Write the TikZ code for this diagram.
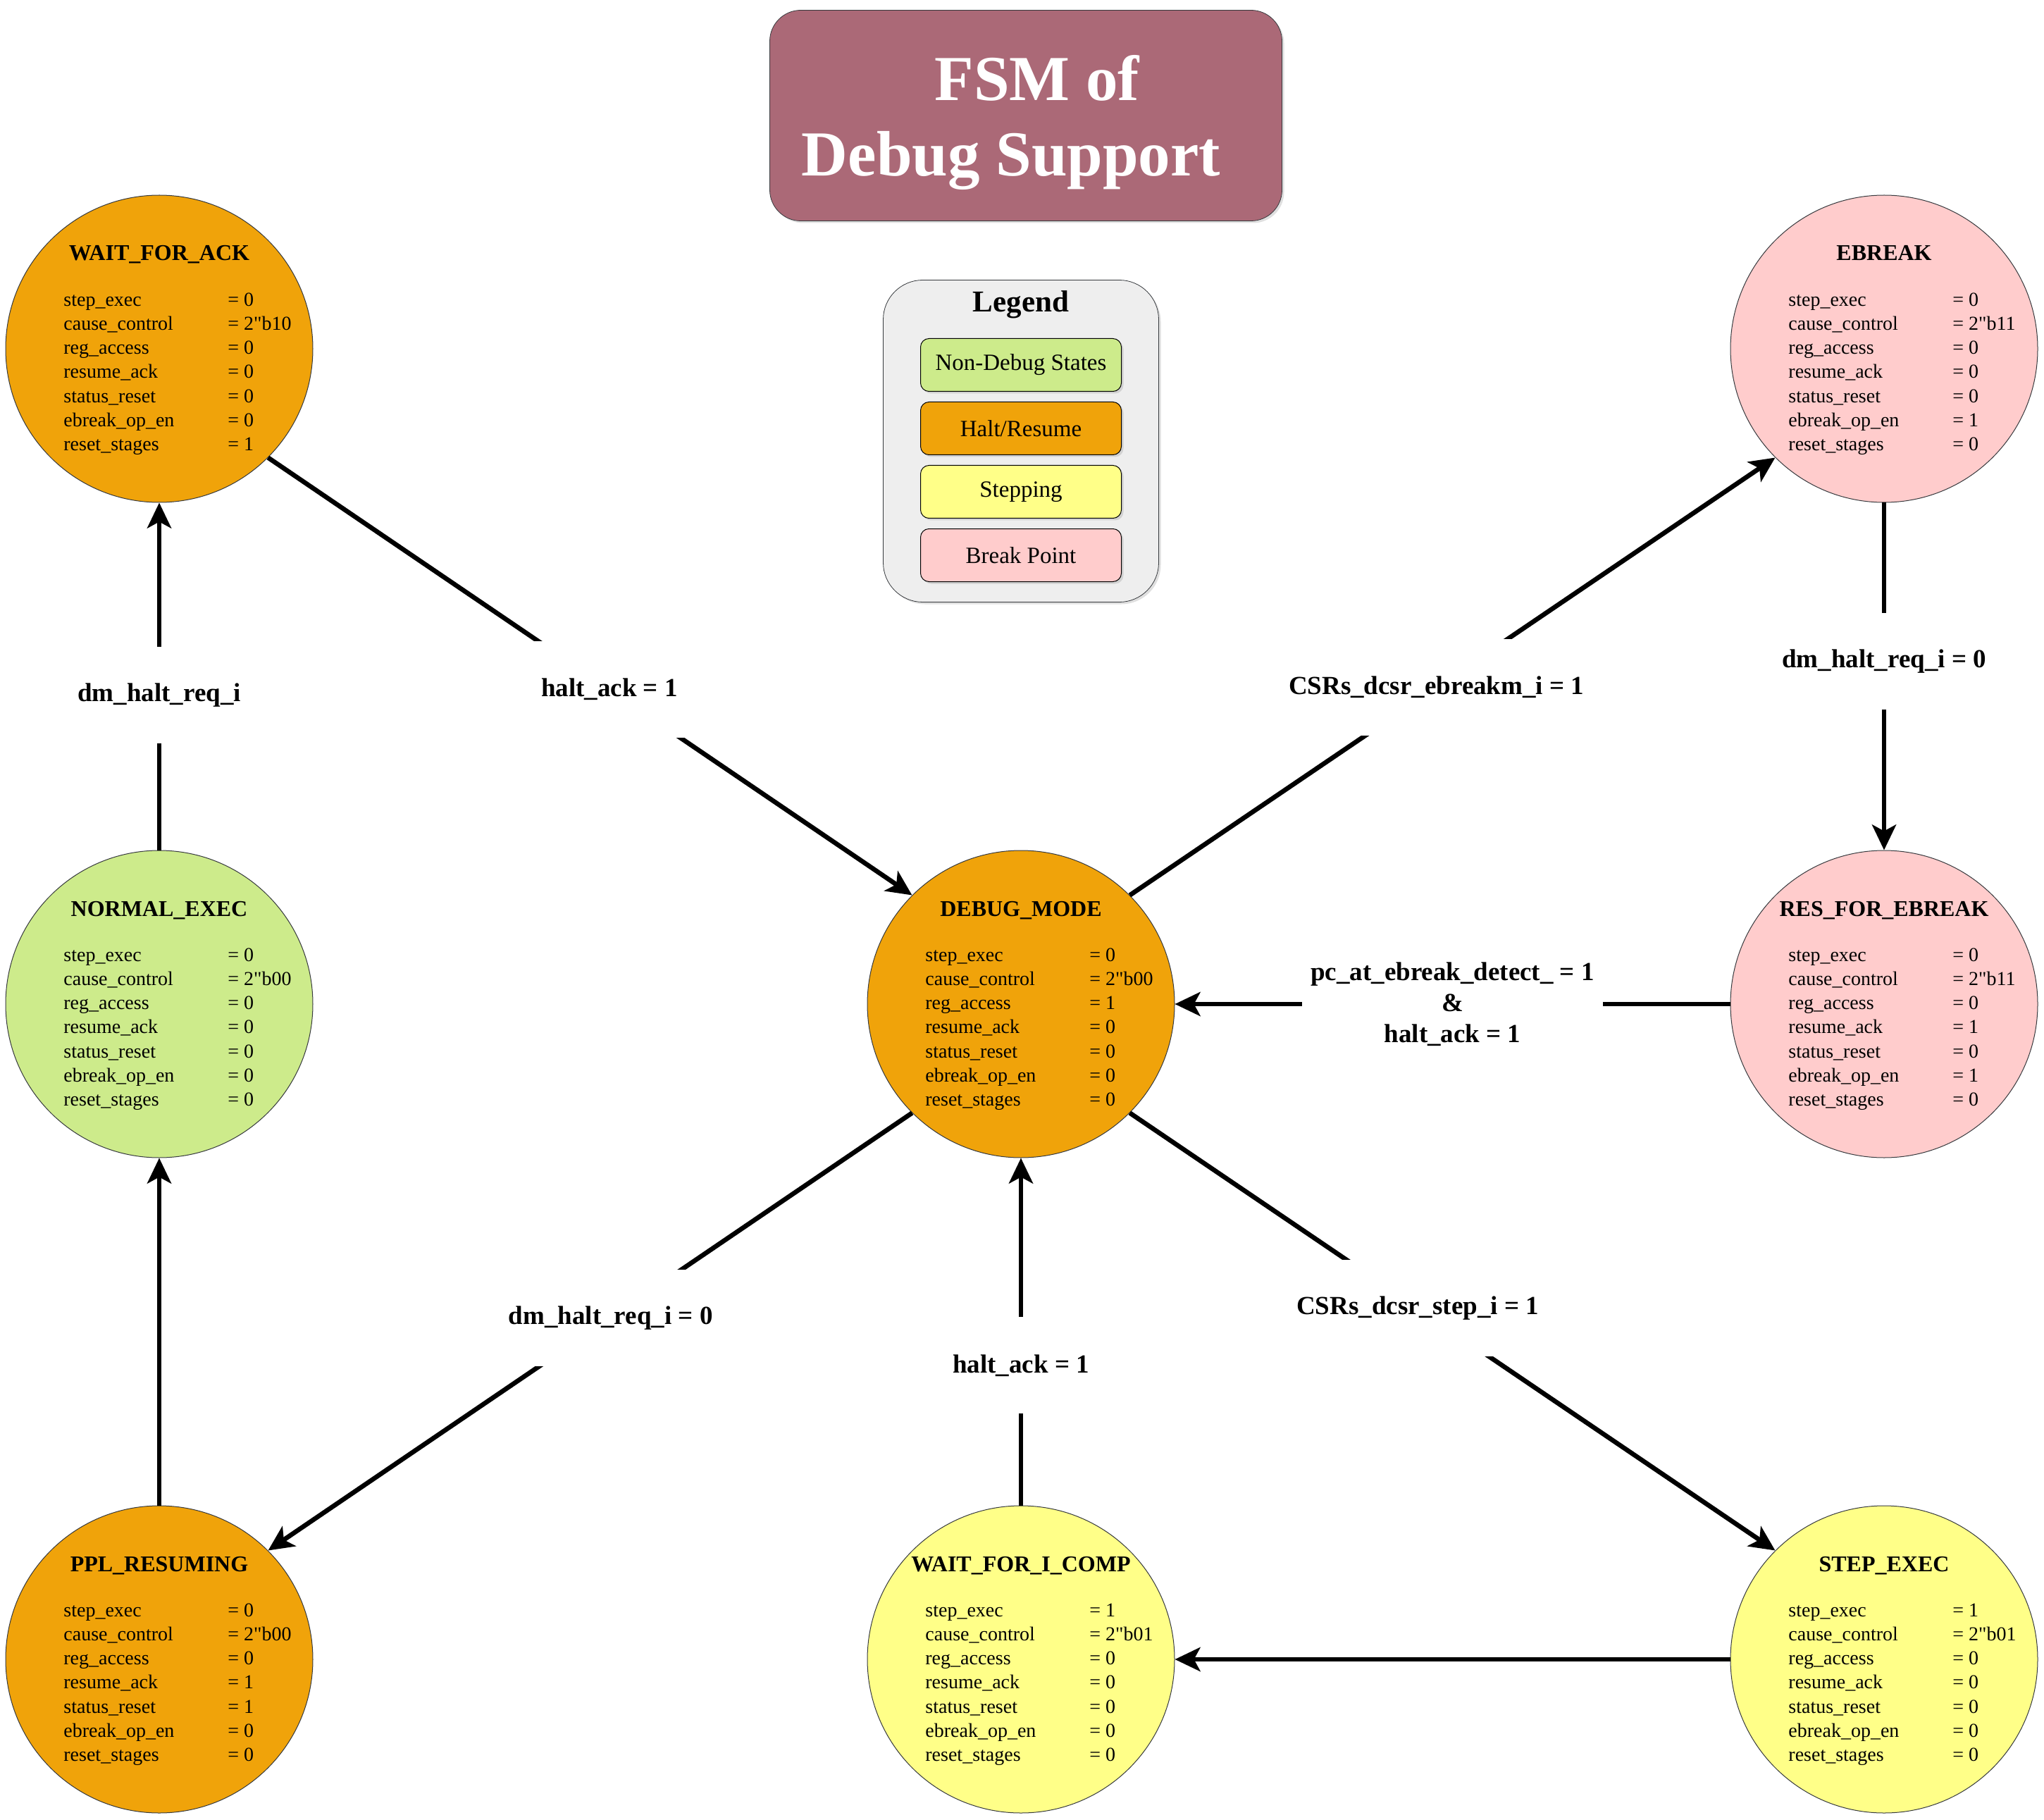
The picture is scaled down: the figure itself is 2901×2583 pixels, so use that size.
\documentclass[tikz,border=0pt]{standalone}
\usepackage{fontspec}
\setmainfont{Liberation Serif}[Ligatures=TeXOff]
\usetikzlibrary{arrows.meta,calc,shadows}

\definecolor{nondebug}{HTML}{CDEB8B}
\definecolor{haltres}{HTML}{F0A30A}
\definecolor{stepping}{HTML}{FFFF88}
\definecolor{brkpoint}{HTML}{FFCCCC}
\definecolor{titlebg}{HTML}{AB6977}
\definecolor{legendbg}{HTML}{EEEEEE}
\definecolor{rim}{HTML}{36393D}

\tikzset{
	fsm/.style={circle, draw=rim, line width=0.5pt, minimum size=218pt, inner sep=0pt},
	fsmname/.style={font=\fontsize{16}{19}\selectfont\bfseries, inner sep=0pt, anchor=base},
	fsmvals/.style={font=\fontsize{14}{17.1}\selectfont, inner sep=0pt, anchor=west},
	trans/.style={line width=3.3pt, -{Stealth[length=18pt,width=17pt,inset=4.5pt]}},
	cond/.style={fill=white, font=\fontsize{18.5}{22}\selectfont\bfseries, align=center,
		inner xsep=6pt, inner ysep=0pt, minimum height=68.5pt},
	shade/.style={drop shadow={shadow xshift=1.5pt, shadow yshift=-1.5pt, opacity=0.25}},
	key/.style={draw=black, line width=0.5pt, rounded corners=6pt, shade,
		minimum width=142.5pt, minimum height=37.5pt, font=\fontsize{16.5}{20}\selectfont},
}

% one state: circle and its name
\newcommand{\fsmstate}[4]{%
	\node[fsm, fill=#3] (#1) at (#2) {};
	\node[fsmname] (#1-name) at ($(#1)+(0,-125)$) {#4};
}
% the seven outputs of a state
\newcommand{\fsmvalues}[8]{%
	\node[fsmvals] (#1-vals) at ($(#1)+(-136,35)$) {%
		\begin{tabular}{@{}p{116.5pt}@{}l@{}}
			step\_exec & = #2\\
			cause\_control & = #3\\
			reg\_access & = #4\\
			resume\_ack & = #5\\
			status\_reset & = #6\\
			ebreak\_op\_en & = #7\\
			reset\_stages & = #8
		\end{tabular}};
}

\begin{document}
\begin{tikzpicture}[x=0.5pt, y=-0.5pt]
	\useasboundingbox (0,0) rectangle (2901,2583);
	% title
	\node[draw=rim, fill=titlebg, rounded corners=22pt, shade, minimum width=363.5pt,
		minimum height=149.5pt] (title) at (1456,164) {};
	\node[text=white, align=center, font=\fontsize{45.5}{53.5}\selectfont\bfseries]
		(title-t) at (1456,174) {\hspace*{16pt}FSM of\\Debug Support\hspace*{21pt}};
	% legend
	\node[draw=rim, fill=legendbg, rounded corners=28pt, shade, minimum width=195.5pt,
		minimum height=228.5pt] (legend) at (1449,626) {};
	\node[font=\fontsize{21.5}{25}\selectfont\bfseries] (legend-t) at (1449,432) {Legend};
	\node[key, fill=nondebug] (key1) at (1449,518) {Non-Debug States};
	\node[key, fill=haltres] (key2) at (1449,608) {Halt/Resume};
	\node[key, fill=stepping] (key3) at (1449,698) {Stepping};
	\node[key, fill=brkpoint] (key4) at (1449,788) {Break Point};
	% states
	\fsmstate{wfa}{226,495}{haltres}{WAIT\_FOR\_ACK}
	\fsmvalues{wfa}{0}{2"b10}{0}{0}{0}{0}{1}
	\fsmstate{ebrk}{2674,495}{brkpoint}{EBREAK}
	\fsmvalues{ebrk}{0}{2"b11}{0}{0}{0}{1}{0}
	\fsmstate{norm}{226,1425}{nondebug}{NORMAL\_EXEC}
	\fsmvalues{norm}{0}{2"b00}{0}{0}{0}{0}{0}
	\fsmstate{dbg}{1449,1425}{haltres}{DEBUG\_MODE}
	\fsmvalues{dbg}{0}{2"b00}{1}{0}{0}{0}{0}
	\fsmstate{resb}{2674,1425}{brkpoint}{RES\_FOR\_EBREAK}
	\fsmvalues{resb}{0}{2"b11}{0}{1}{0}{1}{0}
	\fsmstate{ppl}{226,2355}{haltres}{PPL\_RESUMING}
	\fsmvalues{ppl}{0}{2"b00}{0}{1}{1}{0}{0}
	\fsmstate{wfic}{1449,2355}{stepping}{WAIT\_FOR\_I\_COMP}
	\fsmvalues{wfic}{1}{2"b01}{0}{0}{0}{0}{0}
	\fsmstate{step}{2674,2355}{stepping}{STEP\_EXEC}
	\fsmvalues{step}{1}{2"b01}{0}{0}{0}{0}{0}
	% transitions
	\draw[trans] (norm) -- node[cond, pos=0.447] (c1) {dm\_halt\_req\_i} (wfa);
	\draw[trans] (wfa.south east) -- node[cond, pos=0.53] (c2) {halt\_ack = 1} (dbg.north west);
	\draw[trans] (dbg.north east) -- node[cond, pos=0.475] (c3) {CSRs\_dcsr\_ebreakm\_i = 1} (ebrk.south west);
	\draw[trans] (ebrk) -- node[cond, pos=0.457] (c4) {dm\_halt\_req\_i = 0} (resb);
	\draw[trans] (resb) -- node[cond, pos=0.5] (c5)
		{pc\_at\_ebreak\_detect\_ = 1\\\&\\halt\_ack = 1} (dbg);
	\draw[trans] (dbg.south east) -- node[cond, pos=0.446] (c6) {CSRs\_dcsr\_step\_i = 1} (step.north west);
	\draw[trans] (step) -- (wfic);
	\draw[trans] (wfic) -- node[cond, pos=0.403] (c7) {halt\_ack = 1} (dbg);
	\draw[trans] (dbg.south west) -- node[cond, pos=0.468] (c8) {dm\_halt\_req\_i = 0} (ppl.north east);
	\draw[trans] (ppl) -- (norm);
\end{tikzpicture}
\end{document}
